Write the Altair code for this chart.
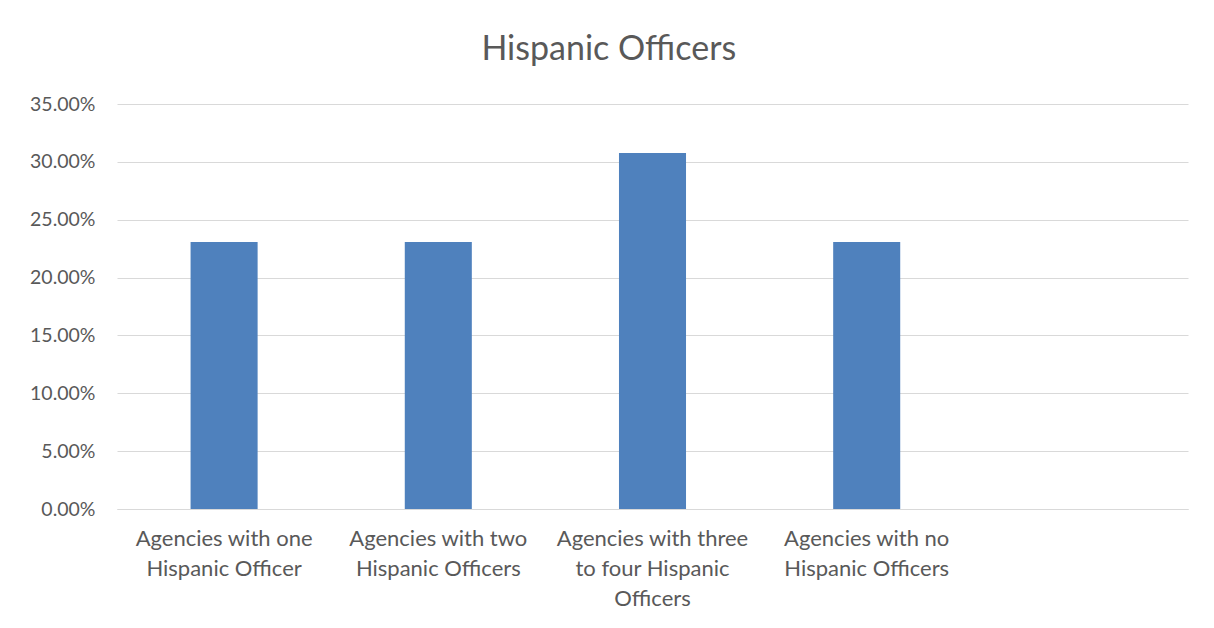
import altair as alt
import pandas as pd

categories = [
    "Agencies with one|Hispanic Officer",
    "Agencies with two|Hispanic Officers",
    "Agencies with three|to four Hispanic|Officers",
    "Agencies with no|Hispanic Officers",
]
values = [0.2308, 0.2308, 0.3077, 0.2308]
y_ticks = [0, 0.05, 0.10, 0.15, 0.20, 0.25, 0.30, 0.35]

df = pd.DataFrame({"category": categories, "value": values})
domain = categories + [""]

FONT = "Lato"
TXT = "#595959"
GRID = "#d9d9d9"

chart = (
    alt.Chart(df)
    .mark_bar(color="#4f81bd")
    .encode(
        x=alt.X(
            "category:N",
            sort=domain,
            scale=alt.Scale(domain=domain, paddingInner=0.687, paddingOuter=0.3435),
            axis=alt.Axis(
                title=None,
                labelAngle=0,
                labelExpr="split(datum.label, '|')",
                labelFont=FONT,
                labelFontSize=22,
                labelColor=TXT,
                labelLineHeight=30,
                labelPadding=19,
                labelBaseline="top",
                ticks=False,
                grid=False,
                domainColor=GRID,
                domainWidth=1,
                labelLimit=300,
            ),
        ),
        y=alt.Y(
            "value:Q",
            scale=alt.Scale(domain=[0, 0.35], nice=False),
            axis=alt.Axis(
                title=None,
                values=y_ticks,
                format=".2%",
                labelFont=FONT,
                labelFontSize=19.5,
                labelColor=TXT,
                labelPadding=22,
                ticks=False,
                domain=False,
                gridColor=GRID,
                gridWidth=1,
            ),
        ),
    )
    .properties(
        width=1071,
        height=405,
        background="white",
        title=alt.TitleParams(
            "Hispanic Officers",
            font=FONT,
            fontSize=34,
            fontWeight="normal",
            color=TXT,
            anchor="middle",
            frame="bounds",
            offset=27,
        ),
        padding={"left": 21, "top": 25, "right": 12, "bottom": 5},
    )
    .configure_view(strokeWidth=0, stroke="transparent")
)

chart.save("out.html", embed_options={"renderer": "svg", "actions": False})
